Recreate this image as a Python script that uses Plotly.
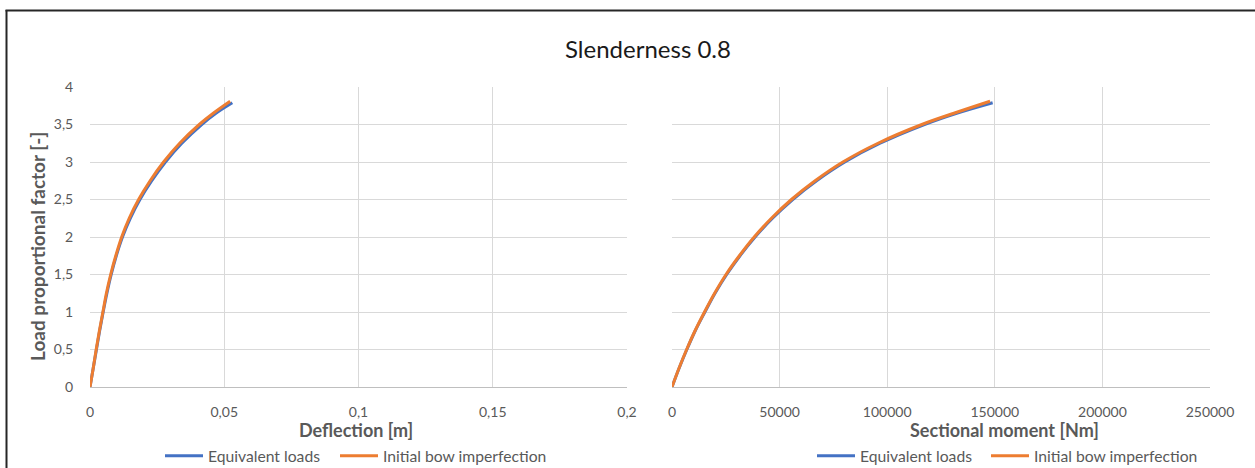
import plotly.graph_objects as go

# Load proportional factor vs. mid-span deflection [m]
defl_lpf_eq = [0, 0.25, 0.5, 0.75, 1.0, 1.25, 1.5, 1.75, 2.0, 2.25, 2.5, 2.75, 3.0, 3.25, 3.5, 3.65, 3.79]
defl_eq = [0, 0.0012, 0.0024, 0.0036, 0.0049, 0.0063, 0.0079, 0.0098, 0.0121, 0.0150, 0.0186, 0.0230, 0.0281, 0.0342, 0.0416, 0.0469, 0.0530]
defl_lpf_bow = [0, 0.25, 0.5, 0.75, 1.0, 1.25, 1.5, 1.75, 2.0, 2.25, 2.5, 2.75, 3.0, 3.25, 3.5, 3.65, 3.81]
defl_bow = [0, 0.0012, 0.0023, 0.0035, 0.0048, 0.0061, 0.0077, 0.0096, 0.0118, 0.0146, 0.0181, 0.0224, 0.0274, 0.0334, 0.0407, 0.0459, 0.0522]

# Load proportional factor vs. sectional moment [Nm]
mom_lpf_eq = [0, 0.25, 0.5, 0.75, 1.0, 1.25, 1.5, 1.75, 2.0, 2.25, 2.5, 2.75, 3.0, 3.25, 3.5, 3.65, 3.79]
mom_eq = [0, 3300, 6900, 10800, 15300, 20000, 25400, 31600, 38600, 46700, 56100, 67200, 80300, 96700, 117300, 132300, 149000]
mom_lpf_bow = [0, 0.25, 0.5, 0.75, 1.0, 1.25, 1.5, 1.75, 2.0, 2.25, 2.5, 2.75, 3.0, 3.25, 3.5, 3.65, 3.81]
mom_bow = [0, 3250, 6800, 10700, 15100, 19800, 25100, 31300, 38200, 46200, 55500, 66500, 79400, 95700, 116100, 131000, 147800]

y_ticks = [0, 0.5, 1, 1.5, 2, 2.5, 3, 3.5, 4]
y_labels = ["0", "0,5", "1", "1,5", "2", "2,5", "3", "3,5", "4"]
defl_ticks = [0, 0.05, 0.1, 0.15, 0.2]
defl_labels = ["0", "0,05", "0,1", "0,15", "0,2"]
mom_ticks = [0, 50000, 100000, 150000, 200000, 250000]
mom_labels = ["0", "50000", "100000", "150000", "200000", "250000"]

BLUE = "#4472C4"
ORANGE = "#ED7D31"
GRID = "#D9D9D9"
TXT = "#595959"
FONT = "Lato"

W, H = 1255, 468
L, R, T, B = 90, 45, 87, 81
PW, PH = W - L - R, H - T - B


def cx(x):
    # pixel column -> container fraction
    return x / W


def cy(y):
    # pixel row -> container fraction
    return 1 - y / H


def pxp(x):
    # pixel column -> paper fraction
    return (x - L) / PW


def pyp(y):
    # pixel row -> paper fraction
    return (H - B - y) / PH


fig = go.Figure()

line_kw = dict(width=3, shape="spline", smoothing=1)
fig.add_trace(go.Scatter(x=defl_eq, y=defl_lpf_eq, mode="lines", name="Equivalent loads", showlegend=True,
                         line=dict(line_kw, color=BLUE), xaxis="x", yaxis="y", legend="legend"))
fig.add_trace(go.Scatter(x=defl_bow, y=defl_lpf_bow, mode="lines", name="Initial bow imperfection", showlegend=True,
                         line=dict(line_kw, color=ORANGE), xaxis="x", yaxis="y", legend="legend3"))
fig.add_trace(go.Scatter(x=mom_eq, y=mom_lpf_eq, mode="lines", name="Equivalent loads", showlegend=True,
                         line=dict(line_kw, color=BLUE), xaxis="x2", yaxis="y2", legend="legend2"))
fig.add_trace(go.Scatter(x=mom_bow, y=mom_lpf_bow, mode="lines", name="Initial bow imperfection", showlegend=True,
                         line=dict(line_kw, color=ORANGE), xaxis="x2", yaxis="y2", legend="legend4"))

common_x = dict(showgrid=True, gridcolor=GRID, gridwidth=1, zeroline=False,
                showline=True, linecolor="#BFBFBF", linewidth=1, automargin=False,
                ticks="outside", ticklen=12, tickcolor="rgba(0,0,0,0)",
                tickfont=dict(family=FONT, size=14, color=TXT), tickmode="array")
common_y = dict(showgrid=True, gridcolor=GRID, gridwidth=1, zeroline=False, automargin=False,
                showline=False, range=[0, 4], tickmode="array", tickvals=y_ticks,
                ticktext=y_labels, domain=[0, 1])

title_font = dict(family=FONT, size=18, color=TXT)
legend_style = dict(orientation="h", xref="container", yref="container", visible=True,
                    xanchor="left", yanchor="middle", itemwidth=38,
                    font=dict(family=FONT, size=15.7, color=TXT), bgcolor="rgba(0,0,0,0)")

fig.update_layout(
    width=W, height=H,
    showlegend=True,
    margin=dict(l=L, r=R, t=T, b=B),
    paper_bgcolor="white", plot_bgcolor="white",
    font=dict(family=FONT, color=TXT),
    title=dict(text="Slenderness 0.8", x=cx(648), y=cy(50), xanchor="center", yanchor="middle",
               font=dict(family=FONT, size=24, color="#1a1a1a")),
    xaxis=dict(common_x, domain=[0, pxp(627)], range=[0, 0.2],
               tickvals=defl_ticks, ticktext=defl_labels, anchor="y"),
    yaxis=dict(common_y, anchor="x",
               ticks="outside", ticklen=13, tickcolor="rgba(0,0,0,0)",
               tickfont=dict(family=FONT, size=14, color=TXT)),
    xaxis2=dict(common_x, domain=[pxp(672), 1], range=[0, 250000],
                tickvals=mom_ticks, ticktext=mom_labels, anchor="y2"),
    yaxis2=dict(common_y, anchor="x2", showticklabels=False),
    legend=dict(legend_style, x=cx(160), y=cy(456)),
    legend3=dict(legend_style, x=cx(335), y=cy(456)),
    legend2=dict(legend_style, x=cx(812), y=cy(456)),
    legend4=dict(legend_style, x=cx(986), y=cy(456)),
    annotations=[
        dict(text="<b>Deflection [m]</b>", xref="paper", yref="paper", x=pxp(356), y=pyp(430),
             xanchor="center", yanchor="middle", showarrow=False, font=title_font),
        dict(text="<b>Sectional moment [Nm]</b>", xref="paper", yref="paper", x=pxp(1004), y=pyp(430),
             xanchor="center", yanchor="middle", showarrow=False, font=title_font),
        dict(text="<b>Load proportional factor [-]</b>", xref="paper", yref="paper",
             x=pxp(37), y=pyp(247), xanchor="center", yanchor="middle", textangle=-90,
             showarrow=False, font=dict(family=FONT, size=19, color=TXT)),
    ],
    shapes=[
        dict(type="line", xref="paper", yref="paper", x0=pxp(6.5), x1=pxp(6.5),
             y0=pyp(480), y1=pyp(10), line=dict(color="#262626", width=2), layer="below"),
        dict(type="line", xref="paper", yref="paper", x0=pxp(5.5), x1=pxp(1270),
             y0=pyp(10.5), y1=pyp(10.5), line=dict(color="#262626", width=2), layer="below"),
    ],
)

fig.write_html("out.html")
